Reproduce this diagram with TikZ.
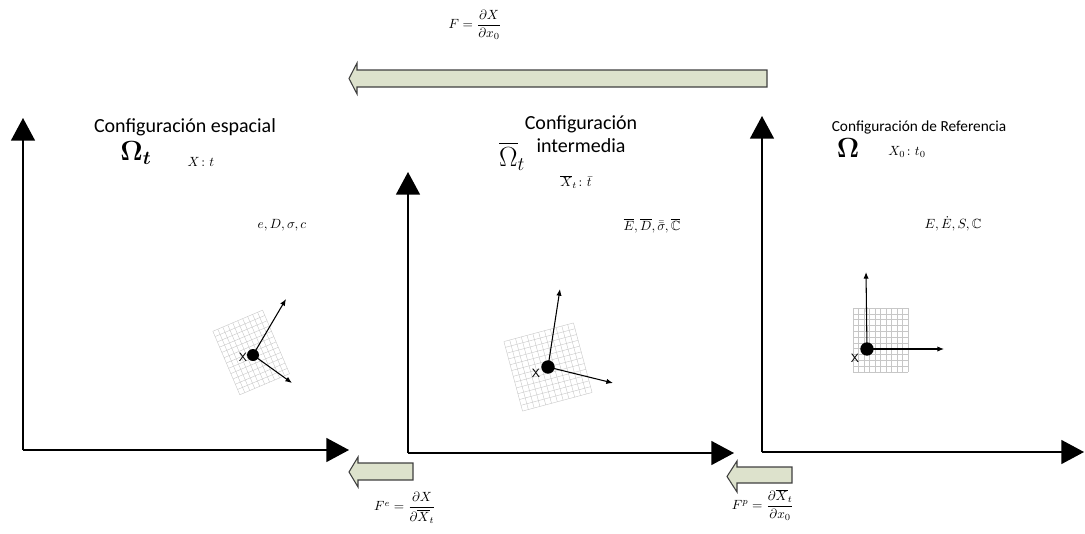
\documentclass[tikz,border=0pt]{standalone}
\usepackage{amsmath,amssymb,bm}
\usepackage{fontspec}
\setmainfont{Carlito}
\usetikzlibrary{arrows.meta}
\definecolor{arrowfill}{HTML}{DDE2CC}
\begin{document}
\begin{tikzpicture}[x=0.75pt, y=-0.75pt,
  axis/.style={line width=1.1pt, -{Triangle[length=17pt, width=18pt]}},
  blockarrow/.style={draw=black!75, fill=arrowfill, line width=0.8pt, line join=miter},
  gridline/.style={draw=black!22, line width=0.3pt},
  vec/.style={line width=0.8pt, -{Latex[length=5pt, width=4pt]}},
  title/.style={font=\fontsize{15}{17}\selectfont, align=center},
  small/.style={inner sep=1pt},
  dot/.style={circle, fill=black, inner sep=0pt, minimum size=10pt}]
  \useasboundingbox (0,0) rectangle (1085,533);

  % axes of the three configurations
  \coordinate (O1) at (23,450);
  \coordinate (O2) at (408,453);
  \coordinate (O3) at (762,452);
  \draw[axis] (O1) -- (23,118);
  \draw[axis] (O1) -- (349,450);
  \draw[axis] (O2) -- (408,172);
  \draw[axis] (O2) -- (734,453);
  \draw[axis] (O3) -- (762,116);
  \draw[axis] (O3) -- (1084,452);

  % block arrows
  \draw[blockarrow] (767,70) -- (357,70) -- (357,63) -- (349,78.5) -- (357,94)
    -- (357,87) -- (767,87) -- cycle;
  \draw[blockarrow] (413,463) -- (358,463) -- (358,457) -- (349,472) -- (358,487)
    -- (358,480) -- (413,480) -- cycle;
  \draw[blockarrow] (792,467) -- (737,467) -- (737,461) -- (727,476.5) -- (737,492)
    -- (737,483) -- (792,483) -- cycle;

  % gradients
  \node (F) at (475,25) {$F=\dfrac{\partial X}{\partial x_0}$};
  \node (Fe) at (405,508) {$F^e=\dfrac{\partial X}{\partial \overline{X}_t}$};
  \node (Fp) at (763,505) {$F^p=\dfrac{\partial \overline{X}_t}{\partial x_0}$};

  % spatial configuration
  \node[title] (esp) at (185,127) {Configuración espacial};
  \node (Om1) at (136,153) {\huge$\bm{\Omega_t}$};
  \node[small] (Xt1) at (201,162) {$X\colon t$};
  \node[small] (var1) at (282,225) {$e,D,\sigma,c$};

  % intermediate configuration
  \node[title] (inter) at (581,134) {Configuración\\intermedia};
  \node (Om2) at (512,156) {\huge$\overline{\Omega}_t$};
  \node[small] (Xt2) at (576,182) {$\overline{X}_t\colon\bar{t}$};
  \node[small] (var2) at (652,226) {$\overline{E},\overline{D},\bar{\bar{\sigma}},\overline{\mathbb{C}}$};

  % reference configuration
  \node[font=\fontsize{11.5}{13}\selectfont] (ref) at (919,127) {Configuración de Referencia};
  \node (Om3) at (848,148) {\huge$\bm{\Omega}$};
  \node[small] (Xt3) at (907,152) {$X_0\colon t_0$};
  \node[small] (var3) at (953,224) {$E,\dot{E},S,\mathbb{C}$};

  % material elements
  \begin{scope}[shift={(251,352)}, rotate=23]
    \foreach \i in {0,...,10} {
      \draw[gridline] (-27+5.4*\i,-34) -- (-27+5.4*\i,35);
    }
    \foreach \j in {0,...,12} {
      \draw[gridline] (-27,-34+5.75*\j) -- (27,-34+5.75*\j);
    }
  \end{scope}
  \node[dot, minimum size=9pt] (P1) at (253,355) {};
  \coordinate (a1) at (286,299);
  \coordinate (b1) at (292,383);
  \draw[vec] (P1.center) -- (a1);
  \draw[vec] (P1.center) -- (b1);
  \node[font=\small\sffamily, inner sep=0pt] (x1) at (243,357) {X};

  \begin{scope}[shift={(548,367)}, rotate=15]
    \foreach \i in {0,...,12} {
      \draw[gridline] (-36+6*\i,-36) -- (-36+6*\i,36);
    }
    \foreach \j in {0,...,12} {
      \draw[gridline] (-36,-36+6*\j) -- (36,-36+6*\j);
    }
  \end{scope}
  \node[dot] (P2) at (548,367) {};
  \coordinate (a2) at (560,289);
  \coordinate (b2) at (613,383);
  \draw[vec] (P2.center) -- (a2);
  \draw[vec] (P2.center) -- (b2);
  \node[font=\small\sffamily, inner sep=0pt] (x2) at (536,373) {X};

  \foreach \i in {0,...,10} {
    \draw[gridline] (853+5.5*\i,308) -- (853+5.5*\i,372);
  }
  \foreach \j in {0,...,11} {
    \draw[gridline] (853,308+5.8*\j) -- (908,308+5.8*\j);
  }
  \node[dot] (P3) at (867,349) {};
  \coordinate (a3) at (866,272);
  \coordinate (b3) at (944,349);
  \draw[vec] (P3.center) -- (a3);
  \draw[vec] (P3.center) -- (b3);
  \node[font=\small\sffamily, inner sep=0pt] (x3) at (855,358) {X};
\end{tikzpicture}
\end{document}
